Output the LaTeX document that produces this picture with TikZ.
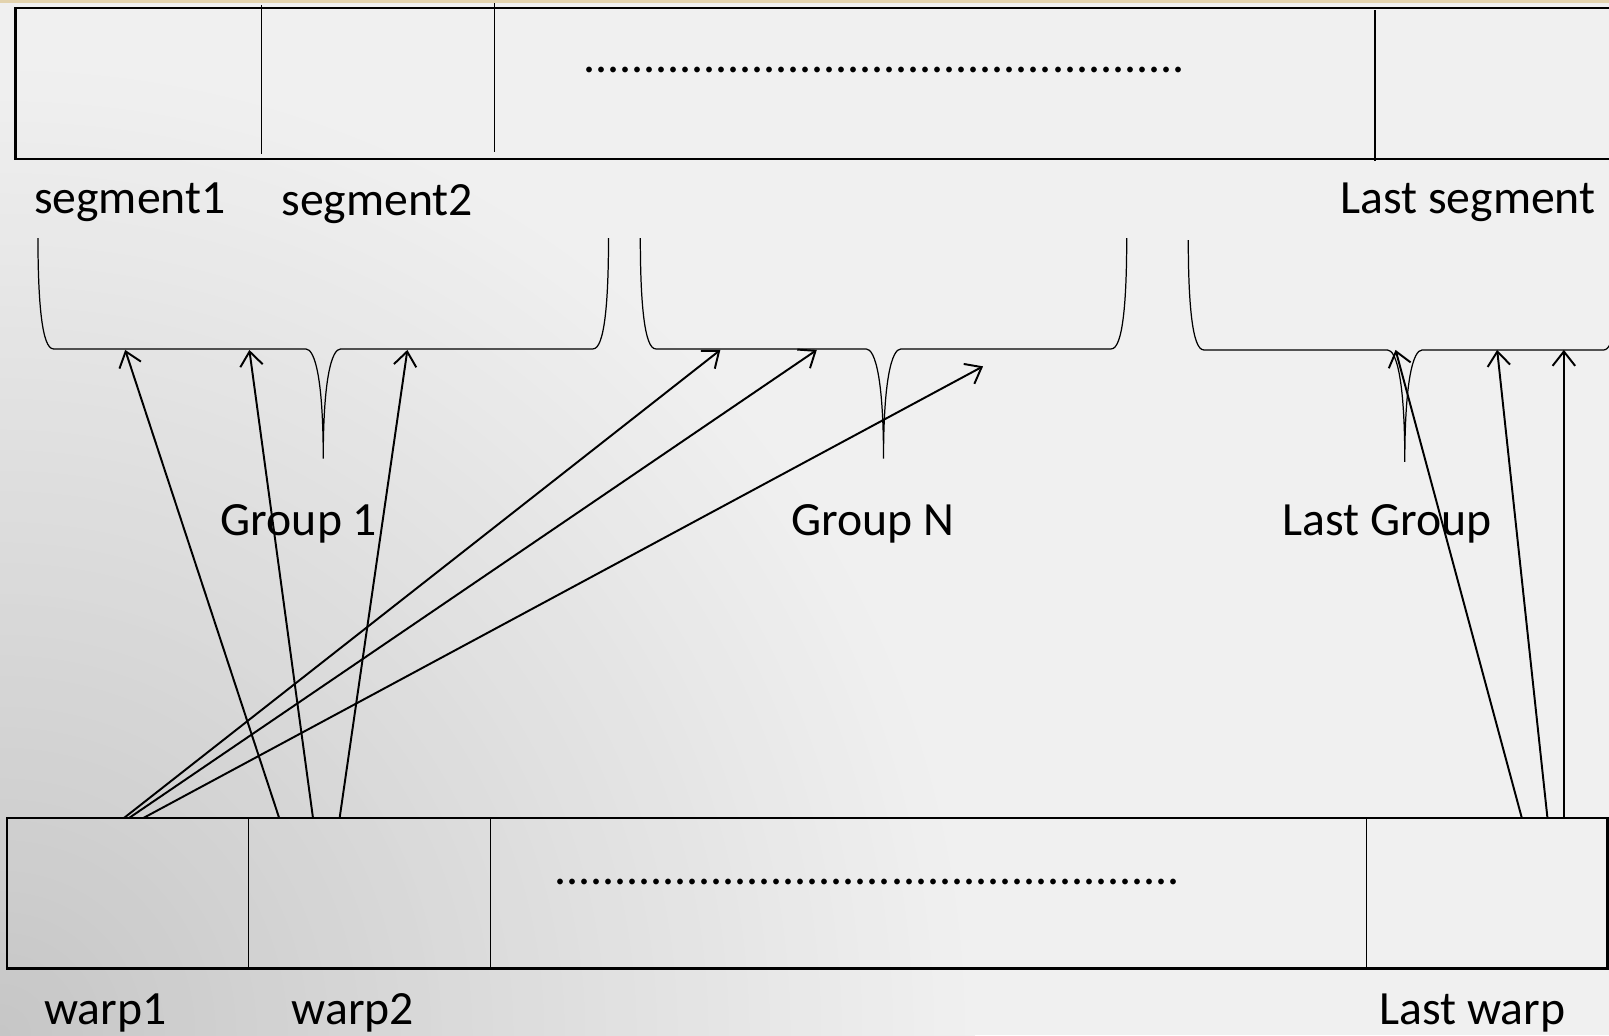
\documentclass[tikz,border=0pt]{standalone}
\usepackage{fontspec}
\setmainfont{Carlito}
\usetikzlibrary{arrows.meta}
\definecolor{bgc}{HTML}{F0F0F0}
\definecolor{bgdark}{HTML}{C6C6C6}
\definecolor{stripc}{HTML}{E3D3AE}
\tikzset{
  boxline/.style={line width=2.4pt, black},
  divline/.style={line width=1.2pt, black},
  braceline/.style={line width=1.2pt, black},
  arr/.style={line width=1.9pt, black, -{Straight Barb[length=14pt,width=22pt]}},
  lbl/.style={font=\fontsize{46.5}{56}\selectfont, inner sep=0pt, anchor=base west},
}
% brace: left x, tip x, right x, top y, horizontal y, tip y
\newcommand\hbrace[6]{%
  \draw[braceline] (#1,#4) .. controls (#1,#5-45) and (#1+4,#5) .. (#1+15,#5)
    -- (#2-17,#5) .. controls (#2-8,#5) and (#2,#5+30) .. (#2,#6)
    .. controls (#2,#5+30) and (#2+8,#5) .. (#2+17,#5)
    -- (#3-15,#5) .. controls (#3-4,#5) and (#3,#5-45) .. (#3,#4);}
\begin{document}
\begin{tikzpicture}[x=1pt,y=-1pt]
\useasboundingbox (0,0) rectangle (1568,1009);
\clip (0,0) rectangle (1568,1009);
% background
\fill[bgc] (0,0) rectangle (1568,1009);
\foreach \r in {950,940,...,10} {
  \pgfmathsetmacro\p{100*(1-\r/950)}
  \fill[bgdark!\p!bgc] (0,1009) circle (\r);
}
\fill[stripc] (0,0) rectangle (1568,2.5);

% top box
\draw[boxline] (15,8) rectangle (1580,155);
\draw[divline] (255,5) -- (255,150);
\draw[divline] (482,3) -- (482,148);
\draw[divline] (1340,10) -- (1340,157);
\node[lbl] (dtop) at (568,71) {..................................................};

% labels top
\node[lbl] (seg1) at (33,208) {segment1};
\node[lbl] (seg2) at (274,210) {segment2};
\node[lbl] (segL) at (1306,208) {Last segment};

% braces
\hbrace{37}{315}{593}{232}{340}{447}
\hbrace{624}{861}{1098}{232}{340}{447}
\hbrace{1158}{1369}{1578}{234}{341}{450}

\node[lbl] (g1) at (215,522) {Group 1};
\node[lbl] (gN) at (771,522) {Group N};
\node[lbl] (gL) at (1250,522) {Last Group};

% bottom box
\draw[boxline] (7,797) rectangle (1566.5,944);
\draw[divline] (242,797) -- (242,944);
\draw[divline] (478,797) -- (478,944);
\draw[divline] (1332,797) -- (1332,944);
\node[lbl] (dbot) at (540,862) {....................................................};

\node[lbl] (w1) at (43,998) {warp1};
\node[lbl] (w2) at (284,998) {warp2};
\node[lbl] (wL) at (1344,998) {Last warp};

% arrow end points
\coordinate (s1) at (272,797); \coordinate (t1) at (122,341);
\coordinate (s2) at (305,797); \coordinate (t2) at (243,341);
\coordinate (s3) at (331,797); \coordinate (t3) at (397,341);
\coordinate (s4) at (121,797); \coordinate (t4) at (702,341);
\coordinate (s5) at (126,797); \coordinate (t5) at (796,341);
\coordinate (s6) at (140,797); \coordinate (t6) at (958,357);
\coordinate (s7) at (1483,797); \coordinate (t7) at (1360,341);
\coordinate (s8) at (1508,797); \coordinate (t8) at (1459,341);
\coordinate (s9) at (1524,797); \coordinate (t9) at (1524,341);

\foreach \i in {1,...,9} { \draw[arr] (s\i) -- (t\i); }
\end{tikzpicture}
\end{document}
